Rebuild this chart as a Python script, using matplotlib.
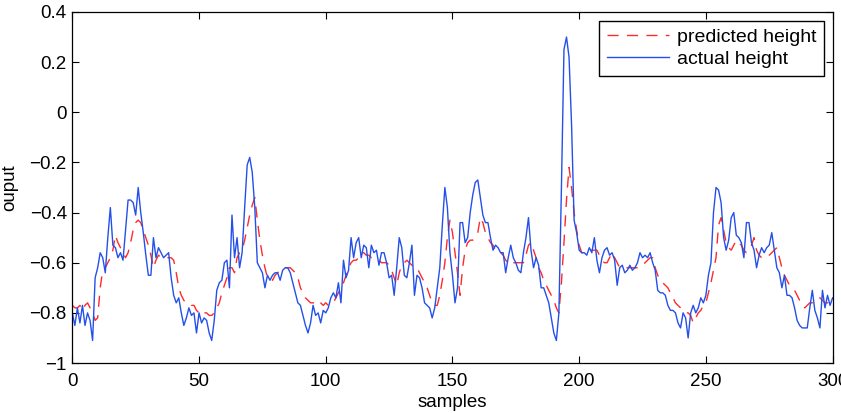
import matplotlib
matplotlib.use('Agg')
import matplotlib.pyplot as plt
import numpy as np

plt.rcParams['font.family'] = ['Liberation Sans', 'DejaVu Sans']

# actual height, one value per sample (0..300)
actual = [
    -0.80, -0.85, -0.78, -0.84, -0.77, -0.85, -0.80, -0.83, -0.91, -0.66,
    -0.62, -0.56, -0.58, -0.64, -0.50, -0.38, -0.53, -0.54, -0.58, -0.56,
    -0.59, -0.47, -0.35, -0.35, -0.36, -0.41, -0.30, -0.40, -0.48, -0.57,
    -0.65, -0.65, -0.50, -0.58, -0.54, -0.56, -0.58, -0.57, -0.56, -0.66,
    -0.73, -0.76, -0.74, -0.80, -0.85, -0.82, -0.78, -0.81, -0.80, -0.88,
    -0.80, -0.84, -0.82, -0.83, -0.88, -0.91, -0.83, -0.71, -0.68, -0.67,
    -0.60, -0.59, -0.70, -0.41, -0.58, -0.50, -0.62, -0.56, -0.38, -0.21,
    -0.18, -0.24, -0.38, -0.60, -0.62, -0.64, -0.70, -0.65, -0.67, -0.65,
    -0.64, -0.64, -0.67, -0.63, -0.62, -0.62, -0.64, -0.68, -0.72, -0.76,
    -0.77, -0.81, -0.85, -0.88, -0.84, -0.77, -0.81, -0.80, -0.84, -0.79,
    -0.80, -0.78, -0.74, -0.72, -0.74, -0.68, -0.76, -0.59, -0.66, -0.63,
    -0.50, -0.58, -0.52, -0.50, -0.58, -0.53, -0.54, -0.62, -0.53, -0.56,
    -0.55, -0.61, -0.56, -0.56, -0.60, -0.66, -0.65, -0.73, -0.62, -0.50,
    -0.54, -0.65, -0.66, -0.60, -0.53, -0.73, -0.65, -0.66, -0.70, -0.76,
    -0.77, -0.78, -0.82, -0.78, -0.70, -0.62, -0.45, -0.30, -0.38, -0.56,
    -0.65, -0.76, -0.70, -0.44, -0.44, -0.52, -0.50, -0.40, -0.33, -0.28,
    -0.27, -0.34, -0.41, -0.44, -0.44, -0.50, -0.55, -0.53, -0.54, -0.56,
    -0.56, -0.64, -0.58, -0.53, -0.58, -0.60, -0.63, -0.64, -0.56, -0.50,
    -0.42, -0.55, -0.62, -0.58, -0.61, -0.70, -0.70, -0.73, -0.76, -0.82,
    -0.88, -0.91, -0.80, -0.30, 0.25, 0.30, 0.22, -0.05, -0.43, -0.48,
    -0.55, -0.56, -0.56, -0.57, -0.54, -0.56, -0.50, -0.59, -0.64, -0.58,
    -0.55, -0.54, -0.57, -0.56, -0.59, -0.69, -0.62, -0.61, -0.64, -0.63,
    -0.61, -0.63, -0.62, -0.60, -0.56, -0.58, -0.57, -0.58, -0.56, -0.60,
    -0.63, -0.71, -0.72, -0.72, -0.73, -0.77, -0.79, -0.79, -0.80, -0.84,
    -0.86, -0.80, -0.82, -0.90, -0.80, -0.77, -0.80, -0.78, -0.74, -0.76,
    -0.73, -0.65, -0.60, -0.40, -0.30, -0.31, -0.36, -0.50, -0.55, -0.51,
    -0.42, -0.40, -0.49, -0.50, -0.52, -0.58, -0.44, -0.44, -0.52, -0.55,
    -0.62, -0.57, -0.54, -0.56, -0.54, -0.53, -0.48, -0.55, -0.62, -0.64,
    -0.70, -0.65, -0.73, -0.73, -0.74, -0.78, -0.83, -0.85, -0.86, -0.86,
    -0.86, -0.78, -0.71, -0.79, -0.82, -0.86, -0.71, -0.78, -0.73, -0.77,
    -0.74,
]

# predicted height, one value per sample (0..300)
predicted = [
    -0.77, -0.78, -0.78, -0.77, -0.79, -0.77, -0.76, -0.78, -0.80, -0.83,
    -0.82, -0.70, -0.63, -0.62, -0.60, -0.58, -0.55, -0.49, -0.52, -0.54,
    -0.56, -0.58, -0.56, -0.52, -0.47, -0.44, -0.43, -0.44, -0.47, -0.50,
    -0.53, -0.57, -0.62, -0.59, -0.57, -0.58, -0.58, -0.58, -0.58, -0.58,
    -0.59, -0.64, -0.70, -0.73, -0.75, -0.76, -0.76, -0.77, -0.77, -0.79,
    -0.80, -0.79, -0.80, -0.80, -0.81, -0.81, -0.80, -0.78, -0.76, -0.72,
    -0.69, -0.66, -0.62, -0.62, -0.64, -0.58, -0.56, -0.55, -0.51, -0.46,
    -0.41, -0.37, -0.34, -0.43, -0.51, -0.57, -0.62, -0.66, -0.66, -0.67,
    -0.65, -0.64, -0.63, -0.62, -0.62, -0.62, -0.62, -0.63, -0.64, -0.66,
    -0.70, -0.72, -0.74, -0.75, -0.76, -0.76, -0.76, -0.75, -0.76, -0.77,
    -0.76, -0.77, -0.77, -0.76, -0.74, -0.72, -0.70, -0.68, -0.65, -0.62,
    -0.60, -0.59, -0.59, -0.58, -0.56, -0.56, -0.57, -0.57, -0.58, -0.58,
    -0.58, -0.59, -0.60, -0.60, -0.60, -0.61, -0.63, -0.66, -0.69, -0.64,
    -0.61, -0.60, -0.59, -0.60, -0.61, -0.62, -0.62, -0.64, -0.66, -0.68,
    -0.70, -0.73, -0.76, -0.77, -0.77, -0.73, -0.67, -0.60, -0.50, -0.43,
    -0.48, -0.56, -0.64, -0.73, -0.62, -0.55, -0.52, -0.51, -0.51, -0.50,
    -0.48, -0.42, -0.44, -0.48, -0.50, -0.52, -0.53, -0.55, -0.56, -0.56,
    -0.57, -0.59, -0.60, -0.61, -0.60, -0.60, -0.60, -0.60, -0.60, -0.57,
    -0.53, -0.52, -0.55, -0.58, -0.62, -0.64, -0.67, -0.69, -0.71, -0.73,
    -0.75, -0.78, -0.80, -0.68, -0.52, -0.35, -0.22, -0.30, -0.40, -0.47,
    -0.53, -0.56, -0.56, -0.56, -0.55, -0.55, -0.55, -0.55, -0.57, -0.59,
    -0.60, -0.60, -0.58, -0.56, -0.58, -0.60, -0.62, -0.62, -0.62, -0.62,
    -0.62, -0.62, -0.62, -0.62, -0.62, -0.61, -0.60, -0.59, -0.58, -0.58,
    -0.62, -0.65, -0.67, -0.68, -0.69, -0.70, -0.72, -0.74, -0.76, -0.77,
    -0.78, -0.79, -0.80, -0.80, -0.81, -0.84, -0.82, -0.80, -0.79, -0.77,
    -0.76, -0.72, -0.68, -0.63, -0.58, -0.45, -0.42, -0.47, -0.52, -0.54,
    -0.55, -0.53, -0.51, -0.52, -0.53, -0.55, -0.56, -0.55, -0.53, -0.50,
    -0.55, -0.57, -0.58, -0.58, -0.57, -0.57, -0.56, -0.55, -0.54, -0.58,
    -0.62, -0.65, -0.67, -0.69, -0.70, -0.71, -0.73, -0.75, -0.76, -0.78,
    -0.77, -0.76, -0.76, -0.75, -0.75, -0.74, -0.75, -0.76, -0.76, -0.75,
    -0.75,
]

samples = np.arange(len(actual))

fig = plt.figure(figsize=(8.41, 4.13), dpi=100)
ax = fig.add_axes([0.086, 0.121, 0.904, 0.850])

ax.plot(samples, predicted, color='#ff2a2a', linestyle=(0, (8, 6)), linewidth=1.0,
        label='predicted height')
ax.plot(samples, actual, color='#2450ea', linewidth=1.0, label='actual height')

ax.set_xlim(0, 300)
ax.set_ylim(-1, 0.4)
ax.set_xticks(np.arange(0, 301, 50))
ax.set_yticks([-1, -0.8, -0.6, -0.4, -0.2, 0, 0.2, 0.4])
ax.set_yticklabels(['\u22121', '\u22120.8', '\u22120.6', '\u22120.4', '\u22120.2', '0', '0.2', '0.4'])
ax.tick_params(direction='in', top=True, right=True, labelsize=13.5, length=5)
ax.tick_params(axis='x', pad=7)
ax.tick_params(axis='y', pad=4)
for s in ax.spines.values():
    s.set_linewidth(0.9)

ax.set_xlabel('samples', fontsize=13.5)
ax.xaxis.set_label_coords(0.5, -0.088)
ax.set_ylabel('ouput', fontsize=13.5)
ax.yaxis.set_label_coords(-0.071, 0.5)

leg = ax.legend(loc='upper right', fontsize=14, fancybox=False, framealpha=1,
                edgecolor='black', handlelength=3.2, handletextpad=0.4,
                labelspacing=0.22, borderpad=0.4, borderaxespad=0.45)
leg.get_frame().set_linewidth(1.0)

fig.savefig('out.png', dpi=100)
